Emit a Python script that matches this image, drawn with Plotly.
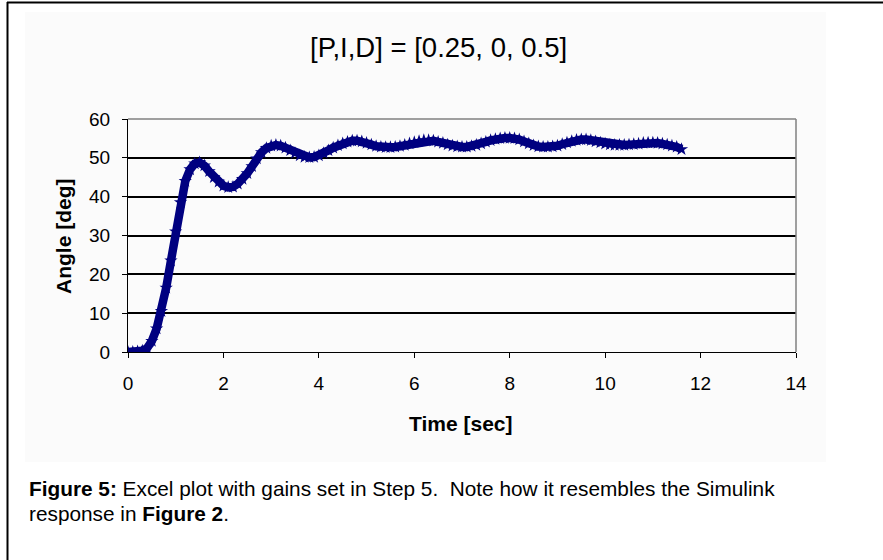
import plotly.graph_objects as go

# ---- data ----
time_sec = [round(0.1 * i, 1) for i in range(117)]
angle_deg = [
    0, 0, 0.1, 0.3, 1.0, 2.8, 6.0, 10.5, 16.5, 23.5,
    31, 38.5, 44, 47, 48.5, 48.8, 48, 46.5, 45, 43.8,
    42.8, 42.4, 42.5, 43.3, 44.5, 46, 47.8, 49.8, 51.4, 52.5,
    53.1, 53.3, 53.1, 52.6, 51.9, 51.2, 50.6, 50.2, 50.1, 50.2,
    50.6, 51.2, 51.9, 52.6, 53.2, 53.7, 54.1, 54.4, 54.4, 54.2,
    53.8, 53.4, 53.0, 52.8, 52.7, 52.7, 52.8, 53.0, 53.3, 53.7,
    54.0, 54.3, 54.5, 54.5, 54.4, 54.1, 53.8, 53.4, 53.1, 52.9,
    52.8, 52.8, 53.0, 53.3, 53.7, 54.1, 54.5, 54.8, 55.0, 55.1,
    55.1, 55.0, 54.7, 54.2, 53.7, 53.2, 52.9, 52.8, 52.8, 52.9,
    53.1, 53.5, 53.9, 54.3, 54.6, 54.7, 54.7, 54.5, 54.2, 53.9,
    53.6, 53.4, 53.3, 53.3, 53.3, 53.4, 53.5, 53.6, 53.8, 53.9,
    53.9, 53.8, 53.6, 53.4, 53.1, 52.8, 52.2,
]
x_ticks = [0, 2, 4, 6, 8, 10, 12, 14]
y_ticks = [0, 10, 20, 30, 40, 50, 60]

title_text = "[P,I,D] = [0.25, 0, 0.5]"
x_title = "Time [sec]"
y_title = "Angle [deg]"
caption_line1 = "<b>Figure 5:</b> Excel plot with gains set in Step 5.  Note how it resembles the Simulink"
caption_line2 = "response in <b>Figure 2</b>."

# ---- layout geometry (pixels) ----
W, H = 883, 560
L, R, T, B = 128, 796, 119, 352
FONT = "Liberation Sans, Arial, sans-serif"
NAVY = "#000080"


def px(x):
    return (x - L) / (R - L)


def py(y):
    return (B - y) / (B - T)


fig = go.Figure()
fig.add_trace(go.Scatter(
    x=time_sec, y=angle_deg, mode="lines+markers",
    line=dict(color=NAVY, width=8.5),
    marker=dict(symbol="star", size=10, color=NAVY, line=dict(width=0)),
    showlegend=False, hoverinfo="x+y",
))

fig.update_layout(
    width=W, height=H, autosize=False,
    margin=dict(l=L, r=W - R, t=T, b=H - B, pad=0),
    paper_bgcolor="white", plot_bgcolor="#C0C0C0",
    font=dict(family=FONT, color="black", size=19),
    xaxis=dict(
        range=[0, 14], tickvals=x_ticks, ticks="outside", ticklen=5,
        tickcolor="black", tickwidth=1, showgrid=False, zeroline=False,
        showline=True, linecolor="black", linewidth=1,
        tickfont=dict(family=FONT, size=19), ticklabelstandoff=9,
        fixedrange=True,
    ),
    yaxis=dict(
        range=[0, 60], tickvals=y_ticks, ticks="outside", ticklen=5,
        tickcolor="black", tickwidth=1, showgrid=True, gridcolor="black",
        gridwidth=1.5, zeroline=False, showline=True, linecolor="black",
        linewidth=1, tickfont=dict(family=FONT, size=19),
        ticklabelstandoff=8, fixedrange=True,
    ),
)

shapes = [
    # faint chart area
    dict(type="rect", xref="paper", yref="paper", x0=px(25), x1=px(826),
         y0=py(462), y1=py(12), fillcolor="#FBFBFB", line=dict(width=0),
         layer="below"),
    # plot-area border top/right (gray)
    dict(type="line", xref="paper", yref="paper", x0=0, x1=1, y0=1, y1=1,
         line=dict(color="#808080", width=1.5)),
    dict(type="line", xref="paper", yref="paper", x0=1, x1=1, y0=0, y1=1,
         line=dict(color="#808080", width=1.5)),
    # outer frame (top and left)
    dict(type="line", xref="paper", yref="paper", x0=px(7), x1=px(883),
         y0=py(2.5), y1=py(2.5), line=dict(color="black", width=2)),
    dict(type="line", xref="paper", yref="paper", x0=px(7.5), x1=px(7.5),
         y0=py(2), y1=py(560), line=dict(color="black", width=2)),
]
fig.update_layout(shapes=shapes)

annotations = [
    dict(text=title_text, x=px(438), y=py(47), xref="paper", yref="paper",
         showarrow=False, xanchor="center", yanchor="middle",
         font=dict(family=FONT, size=27.5, color="black")),
    dict(text="<b>" + x_title + "</b>", x=px(461), y=py(423), xref="paper",
         yref="paper", showarrow=False, xanchor="center", yanchor="middle",
         font=dict(family=FONT, size=21, color="black")),
    dict(text="<b>" + y_title + "</b>", x=px(63), y=py(236), xref="paper",
         yref="paper", showarrow=False, xanchor="center", yanchor="middle",
         textangle=-90, font=dict(family=FONT, size=21, color="black")),
    dict(text=caption_line1, x=px(27), y=py(488), xref="paper", yref="paper",
         showarrow=False, xanchor="left", yanchor="middle",
         font=dict(family=FONT, size=20.8, color="black")),
    dict(text=caption_line2, x=px(27), y=py(513), xref="paper", yref="paper",
         showarrow=False, xanchor="left", yanchor="middle",
         font=dict(family=FONT, size=20.8, color="black")),
]
fig.update_layout(annotations=annotations)

fig.write_html("out.html")
